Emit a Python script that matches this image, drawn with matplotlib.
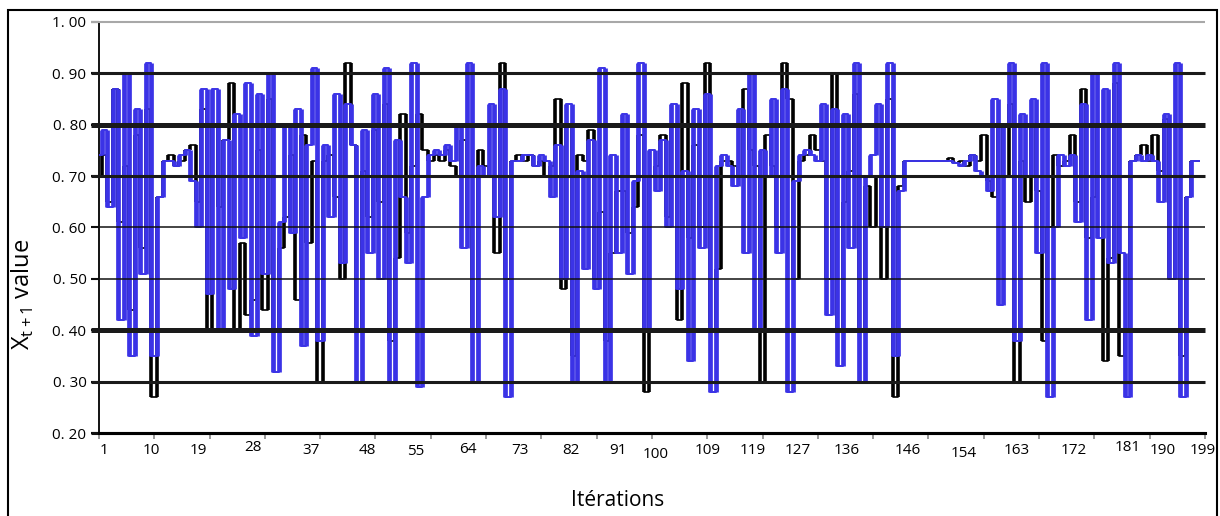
import numpy as np
import matplotlib
matplotlib.use('Agg')
import matplotlib.pyplot as plt
from matplotlib.patches import Rectangle

plt.rcParams['font.family'] = ['Open Sans', 'DejaVu Sans']
plt.rcParams['mathtext.fontset'] = 'custom'
plt.rcParams['mathtext.rm'] = 'Open Sans'

# valeurs (iterations 0..199)
blue_vals = [0.74, 0.79, 0.64, 0.87, 0.42, 0.90, 0.35, 0.83, 0.51, 0.92, 0.35, 0.66,
             0.73, 0.73, 0.72, 0.74, 0.75, 0.69, 0.60,
             0.87, 0.47, 0.87, 0.40, 0.77, 0.48, 0.82, 0.58, 0.88, 0.39, 0.86, 0.51,
             0.90, 0.32, 0.61, 0.80, 0.59, 0.83, 0.37, 0.76, 0.91, 0.38, 0.76, 0.62, 0.86,
             0.53, 0.84, 0.76, 0.30, 0.79, 0.55, 0.86, 0.50, 0.91, 0.30, 0.77, 0.66, 0.53, 0.92, 0.29, 0.66,
             0.74, 0.75, 0.74, 0.76, 0.73,
             0.80, 0.56, 0.92, 0.30,
             0.72, 0.70, 0.84, 0.62, 0.87, 0.27, 0.73,
             0.73, 0.74, 0.74, 0.72, 0.74, 0.73, 0.66,
             0.76, 0.50, 0.84, 0.30, 0.71,
             0.52, 0.77, 0.48, 0.91, 0.30, 0.74, 0.55, 0.82, 0.51, 0.69, 0.92, 0.40,
             0.75, 0.67, 0.77, 0.60, 0.84, 0.48, 0.71, 0.34, 0.83, 0.56, 0.86, 0.28,
             0.72, 0.74, 0.72, 0.68, 0.83, 0.55, 0.90, 0.40, 0.75, 0.70, 0.85, 0.55,
             0.87, 0.28, 0.69, 0.74, 0.75, 0.74, 0.73,
             0.84, 0.43, 0.83, 0.33, 0.82, 0.56, 0.92, 0.30, 0.70, 0.74, 0.84, 0.60, 0.92, 0.35, 0.67,
             0.73, 0.73, 0.73, 0.73, 0.73, 0.73, 0.73, 0.73,
             0.73, 0.725, 0.72, 0.73, 0.74, 0.71,
             0.70, 0.67, 0.85, 0.45, 0.80, 0.92,
             0.38, 0.82, 0.70, 0.85, 0.55, 0.92, 0.27, 0.60, 0.74, 0.72, 0.74, 0.61,
             0.84, 0.42, 0.90, 0.58, 0.87, 0.53, 0.92, 0.55, 0.27, 0.73, 0.74, 0.73,
             0.74, 0.73, 0.65, 0.82, 0.50, 0.92, 0.27, 0.66, 0.73, 0.73]

black_vals = [0.70, 0.74, 0.65, 0.87, 0.61, 0.72, 0.44, 0.78, 0.56, 0.83, 0.27, 0.66,
              0.73, 0.74, 0.72, 0.73, 0.75, 0.76, 0.65,
              0.83, 0.40, 0.80, 0.64, 0.77, 0.88, 0.40, 0.57, 0.43, 0.46, 0.75, 0.44,
              0.85, 0.40, 0.56, 0.62, 0.74, 0.46, 0.78, 0.57, 0.73, 0.30, 0.73, 0.74, 0.66,
              0.50, 0.92, 0.76, 0.40, 0.71, 0.62, 0.79, 0.65, 0.84, 0.38, 0.54, 0.82, 0.59, 0.72, 0.82, 0.75,
              0.73, 0.74, 0.73, 0.75, 0.72,
              0.70, 0.77, 0.60, 0.40,
              0.75, 0.72, 0.70, 0.55, 0.92, 0.50, 0.73,
              0.74, 0.73, 0.74, 0.72, 0.73, 0.70, 0.72,
              0.85, 0.48, 0.80, 0.35, 0.74,
              0.73, 0.79, 0.50, 0.63, 0.38, 0.55, 0.67, 0.67, 0.59, 0.64, 0.78, 0.28,
              0.70, 0.72, 0.78, 0.62, 0.80, 0.42, 0.88, 0.58, 0.76, 0.60, 0.92, 0.40,
              0.52, 0.73, 0.73, 0.72, 0.70, 0.87, 0.75, 0.72, 0.30, 0.78, 0.72, 0.60,
              0.92, 0.85, 0.50, 0.73, 0.74, 0.78, 0.75,
              0.73, 0.50, 0.90, 0.40, 0.65, 0.71, 0.86, 0.40, 0.68, 0.60, 0.70, 0.50, 0.85, 0.27, 0.68,
              0.73, 0.73, 0.73, 0.73, 0.73, 0.73, 0.73, 0.73,
              0.735, 0.725, 0.73, 0.72, 0.74, 0.73,
              0.78, 0.69, 0.66, 0.80, 0.70, 0.84, 0.30, 0.73, 0.65, 0.80, 0.67, 0.38,
              0.60, 0.74, 0.72, 0.73, 0.78, 0.65, 0.87, 0.58, 0.66, 0.80, 0.34, 0.54,
              0.88, 0.35, 0.40, 0.73, 0.74, 0.76, 0.73, 0.78, 0.71, 0.81, 0.50, 0.60,
              0.35, 0.66, 0.73, 0.73]

tick_labels = ['1', '10', '19', '28', '37', '48', '55', '64', '73', '82', '91', '100',
               '109', '119', '127', '136', '146', '154', '163', '172', '181', '190', '199']
tick_pos = [0.9, 9.4, 17.9, 27.8, 38.3, 48.6, 57.3, 66.7, 76.2, 85.3, 93.8, 100.6,
            110.0, 118.2, 126.3, 135.3, 146.3, 156.3, 166.0, 176.2, 186.1, 192.4, 199.6]
tick_dy = [0, 0, 0, -2, 0, 0, 1, -1, 0, 0, 0, 3, 0, 0, 0, 0, 0, 2, 0, 0, -2, 0, 0]

ylevels = [0.2, 0.3, 0.4, 0.5, 0.6, 0.7, 0.8, 0.9, 1.0]
ylabels = ['0. 20', '0. 30', '0. 40', '0. 50', '0. 60', '0. 70', '0. 80', '0. 90', '1. 00']
grid_w = [2.2, 2.2, 3.6, 1.1, 1.1, 2.2, 3.6, 2.2, 1.5]
grid_c = ['#111111', '#1a1a1a', '#1a1a1a', '#111111', '#111111', '#1a1a1a', '#1a1a1a', '#1a1a1a', '#a8a8a8']

BLUE = '#3b33e6'

fig = plt.figure(figsize=(12.2, 5.16), dpi=100)
ax = fig.add_axes([0.0811, 0.1603, 0.9066, 0.7977])


def draw_series(vals, color, lw_step, lw_bar, z):
    v = np.asarray(vals)
    x = np.arange(len(v))
    ax.plot(x, v, drawstyle='steps-mid', color=color, lw=lw_step, zorder=z)
    xm = x[:-1] + 0.5
    ax.vlines(xm, np.minimum(v[:-1], v[1:]), np.maximum(v[:-1], v[1:]),
              color=color, lw=lw_bar, zorder=z)


draw_series(black_vals, 'black', 1.2, 2.6, 2)
draw_series(blue_vals, BLUE, 1.4, 3.4, 3)

ax.set_xlim(0, 200)
ax.set_ylim(0.2, 1.0)

# lignes horizontales (epaisseurs differentes comme sur l'original)
ytr = ax.get_yaxis_transform()
for lv, w, c in zip(ylevels, grid_w, grid_c):
    ax.plot([-0.007, 1.0], [lv, lv], transform=ytr, color=c, lw=w,
            clip_on=False, zorder=4, solid_capstyle='butt')

ax.set_yticks(ylevels)
ax.set_yticklabels(ylabels, fontsize=11)
ax.tick_params(axis='y', length=6, width=1.5, pad=3, colors='black')

ax.set_xticks(np.arange(0, 201, 10))
ax.set_xticklabels([])
ax.tick_params(axis='x', length=4, width=1.2, color='#888888', direction='out')
for lab, p, dy in zip(tick_labels, tick_pos, tick_dy):
    ax.annotate(lab, xy=(p, 0), xycoords=('data', 'axes fraction'),
                xytext=(0, -7 - dy), textcoords='offset points',
                ha='center', va='top', fontsize=11, annotation_clip=False)

for s in ['top', 'right']:
    ax.spines[s].set_visible(False)
ax.spines['left'].set_linewidth(1.3)
ax.spines['bottom'].set_linewidth(2.2)
ax.spines['bottom'].set_zorder(5)

fig.text(0.019, 0.43, r'X$_{\mathrm{t+1}}$ value', rotation=90, fontsize=17,
         ha='center', va='center')
fig.text(0.506, 0.03, 'Itérations', fontsize=15, ha='center', va='center')

fig.patches.append(Rectangle((8 / 1220, -0.01), 1209 / 1220, 1 - 10 / 516 + 0.01,
                             transform=fig.transFigure, fill=False,
                             edgecolor='black', lw=1.5))

fig.savefig('out.png', dpi=100)
